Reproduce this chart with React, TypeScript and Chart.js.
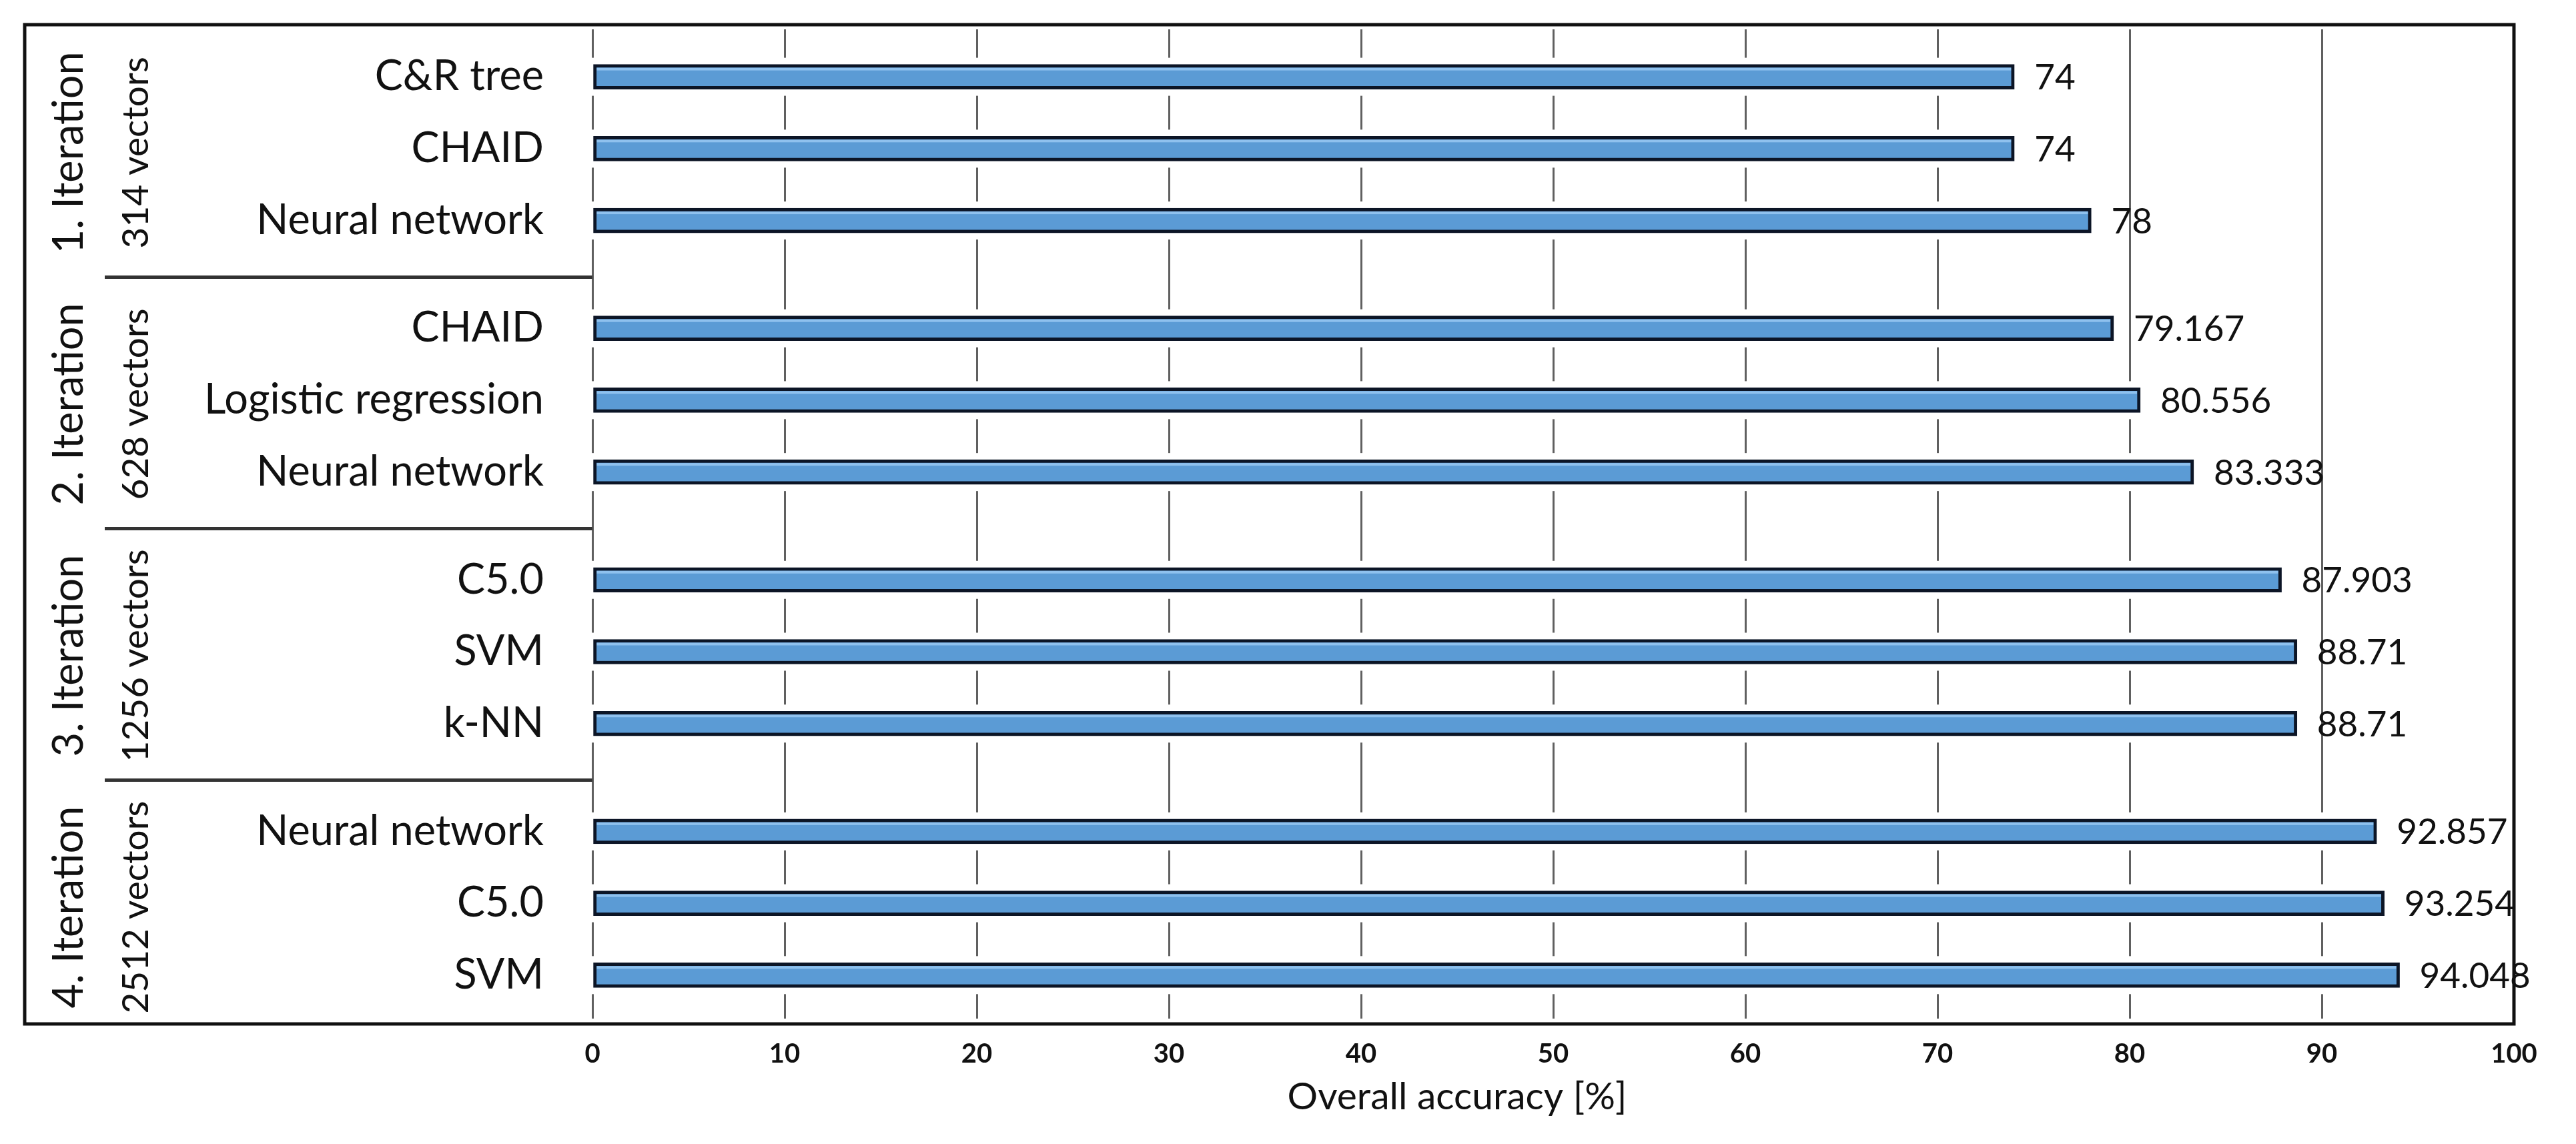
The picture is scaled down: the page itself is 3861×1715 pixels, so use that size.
import React, { useEffect, useRef } from 'react';
import { Chart, registerables } from 'chart.js';

Chart.register(...registerables);

const W = 3861;
const H = 1715;

// ---- data ----
const groupTitles = ['1. Iteration', '2. Iteration', '3. Iteration', '4. Iteration'];
const groupVectors = ['314 vectors', '628 vectors', '1256 vectors', '2512 vectors'];

const iter1Methods = ['C&R tree', 'CHAID', 'Neural network'];
const iter1Accuracy = [74, 74, 78];
const iter2Methods = ['CHAID', 'Logistic regression', 'Neural network'];
const iter2Accuracy = [79.167, 80.556, 83.333];
const iter3Methods = ['C5.0', 'SVM', 'k-NN'];
const iter3Accuracy = [87.903, 88.71, 88.71];
const iter4Methods = ['Neural network', 'C5.0', 'SVM'];
const iter4Accuracy = [92.857, 93.254, 94.048];

const xTickValues = [0, 10, 20, 30, 40, 50, 60, 70, 80, 90, 100];
const axisTitle = 'Overall accuracy [%]';

// ---- layout (slot units on the index axis) ----
const ITEM_STEP = 2;
const GROUP_STEP = 7;

const groupMethods = [iter1Methods, iter2Methods, iter3Methods, iter4Methods];
const groupAccuracy = [iter1Accuracy, iter2Accuracy, iter3Accuracy, iter4Accuracy];

type Row = { label: string; value: number; pos: number; group: number };
const rows: Row[] = [];
groupMethods.forEach((methods, g) => {
  methods.forEach((m, i) => {
    rows.push({ label: m, value: groupAccuracy[g][i], pos: g * GROUP_STEP + i * ITEM_STEP, group: g });
  });
});
const positions = rows.map((r) => r.pos);
const lastPos = positions[positions.length - 1];

const FONT = 'Lato, "Open Sans", "DejaVu Sans", sans-serif';
const TEXT = '#111111';
const AREA_TOP = 44;
const AREA_BOTTOM = 1527;
const AREA_LEFT = 888;
const AREA_RIGHT = 3768;

const decorPlugin = {
  id: 'decor',
  beforeDraw(chart: any) {
    const ctx = chart.ctx;
    ctx.save();
    ctx.fillStyle = '#ffffff';
    ctx.fillRect(0, 0, chart.width, chart.height);
    ctx.restore();
  },
  beforeDatasetsDraw(chart: any) {
    // white halo around bars (interrupts grid lines)
    const ctx = chart.ctx;
    const meta = chart.getDatasetMeta(0);
    ctx.save();
    ctx.fillStyle = '#ffffff';
    meta.data.forEach((el: any) => {
      const p = el.getProps(['x', 'y', 'base', 'height'], true);
      ctx.fillRect(p.base - 4, p.y - p.height / 2 - 10, p.x - p.base + 8, p.height + 20);
    });
    ctx.restore();
  },
  afterDatasetsDraw(chart: any) {
    const ctx = chart.ctx;
    const meta = chart.getDatasetMeta(0);
    ctx.save();
    // subtle highlight stripe on top of each bar
    ctx.fillStyle = 'rgba(160, 205, 245, 0.75)';
    meta.data.forEach((el: any) => {
      const p = el.getProps(['x', 'y', 'base', 'height'], true);
      ctx.fillRect(p.base + 5, p.y - p.height / 2 + 5, p.x - p.base - 10, 4);
    });
    ctx.fillStyle = TEXT;
    ctx.font = `53px ${FONT}`;
    ctx.textAlign = 'left';
    ctx.textBaseline = 'middle';
    meta.data.forEach((el: any, i: number) => {
      const p = el.getProps(['x', 'y'], true);
      ctx.fillText(String(rows[i].value), p.x + 30, p.y + 2);
    });
    ctx.restore();
  },
  afterDraw(chart: any) {
    const ctx = chart.ctx;
    const area = chart.chartArea;
    const ys = chart.scales.y;
    const xs = chart.scales.x;
    ctx.save();
    // outer frame
    ctx.strokeStyle = '#111111';
    ctx.lineWidth = 5;
    ctx.strokeRect(37, 37, area.right - 37, area.bottom + 8 - 37);

    // group separators
    ctx.strokeStyle = '#333333';
    ctx.lineWidth = 5;
    for (let g = 0; g < groupTitles.length - 1; g++) {
      const lastOf = g * GROUP_STEP + (groupMethods[g].length - 1) * ITEM_STEP;
      const firstNext = (g + 1) * GROUP_STEP;
      const y = ys.getPixelForValue((lastOf + firstNext) / 2) + 4;
      ctx.beginPath();
      ctx.moveTo(157, y);
      ctx.lineTo(area.left, y);
      ctx.stroke();
    }

    // group labels (rotated)
    ctx.fillStyle = TEXT;
    ctx.textAlign = 'center';
    ctx.textBaseline = 'middle';
    groupTitles.forEach((t, g) => {
      const mid = g * GROUP_STEP + ((groupMethods[g].length - 1) * ITEM_STEP) / 2;
      const yc = ys.getPixelForValue(mid) + 6;
      ctx.save();
      ctx.translate(104, yc);
      ctx.rotate(-Math.PI / 2);
      ctx.font = `63px ${FONT}`;
      ctx.fillText(t, 0, 0);
      ctx.restore();
      ctx.save();
      ctx.translate(204, yc);
      ctx.rotate(-Math.PI / 2);
      ctx.font = `55px ${FONT}`;
      ctx.fillText(groupVectors[g], 0, 0);
      ctx.restore();
    });

    // axis title
    ctx.font = `57px ${FONT}`;
    ctx.textAlign = 'center';
    ctx.textBaseline = 'middle';
    ctx.fillText(axisTitle, xs.getPixelForValue(45), 1645);
    ctx.restore();
  },
};

export default function App() {
  const canvasRef = useRef<HTMLCanvasElement | null>(null);

  useEffect(() => {
    document.documentElement.style.overflow = 'hidden';
    document.body.style.overflow = 'hidden';
    let chart: Chart | null = null;
    let cancelled = false;

    const build = () => {
      if (cancelled || !canvasRef.current) return;
      chart = new Chart(canvasRef.current, {
        type: 'bar',
        data: {
          datasets: [
            {
              data: rows.map((r) => ({ x: r.value, y: r.pos })),
              backgroundColor: '#5b9bd5',
              borderColor: '#0c1526',
              borderWidth: 5,
              borderSkipped: false,
              barThickness: 37,
            } as any,
          ],
        },
        options: {
          indexAxis: 'y',
          animation: false,
          responsive: false,
          maintainAspectRatio: false,
          layout: {
            autoPadding: false,
            padding: { top: AREA_TOP, right: W - AREA_RIGHT, bottom: 0, left: 0 },
          },
          plugins: { legend: { display: false }, tooltip: { enabled: false } },
          scales: {
            x: {
              type: 'linear',
              position: 'bottom',
              min: 0,
              max: 100,
              afterBuildTicks: (s: any) => {
                s.ticks = xTickValues.map((v) => ({ value: v }));
              },
              afterFit: (s: any) => {
                s.height = H - AREA_BOTTOM;
                s.paddingLeft = 0;
                s.paddingRight = 0;
              },
              ticks: {
                autoSkip: false,
                maxRotation: 0,
                padding: 29,
                color: TEXT,
                font: { family: FONT, size: 40, weight: 'bold' },
                callback: (v: any) => String(v),
              },
              grid: { color: '#606060', lineWidth: 3, drawTicks: false },
              border: { display: false },
            },
            y: {
              type: 'linear',
              reverse: true,
              offset: false,
              min: -1.32,
              max: lastPos + 1.21,
              afterBuildTicks: (s: any) => {
                s.ticks = positions.map((v) => ({ value: v }));
              },
              afterFit: (s: any) => {
                s.width = AREA_LEFT;
                s.paddingTop = 0;
                s.paddingBottom = 0;
              },
              ticks: {
                autoSkip: false,
                padding: 65,
                color: TEXT,
                font: { family: FONT, size: 63 },
                callback: (v: any) => {
                  const r = rows.find((row) => row.pos === v);
                  return r ? r.label : '';
                },
              },
              grid: { display: false },
              border: { display: false },
            },
          },
        } as any,
        plugins: [decorPlugin],
      });
    };

    const fontsApi = (document as any).fonts;
    if (fontsApi && fontsApi.load) {
      Promise.all([fontsApi.load(`63px Lato`), fontsApi.load(`bold 40px Lato`)])
        .catch(() => null)
        .then(() => build());
    } else {
      build();
    }

    return () => {
      cancelled = true;
      if (chart) chart.destroy();
    };
  }, []);

  return (
    <div style={{ position: 'absolute', left: 0, top: 0, width: W, height: H, background: '#ffffff' }}>
      <canvas ref={canvasRef} width={W} height={H} style={{ width: W, height: H, display: 'block' }} />
    </div>
  );
}
